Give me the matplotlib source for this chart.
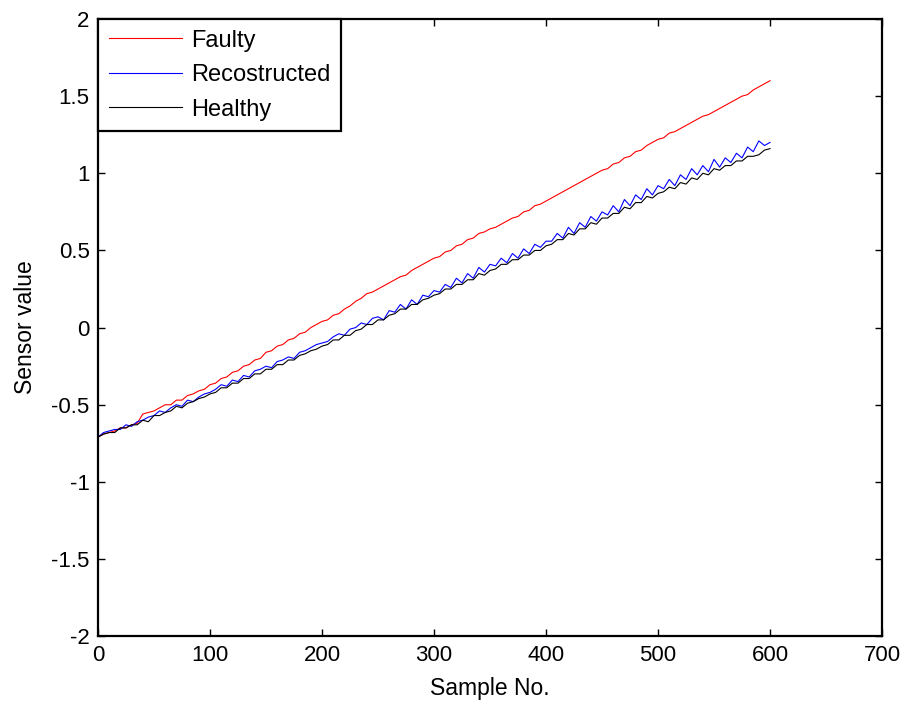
import matplotlib
matplotlib.use("Agg")
import matplotlib.pyplot as plt
from matplotlib.ticker import FormatStrFormatter

plt.rcParams['font.family'] = ['Liberation Sans', 'DejaVu Sans']
plt.rcParams['axes.unicode_minus'] = False

# sample numbers, every 5th sample
samples = list(range(0, 601, 5))

healthy = [
    -0.71, -0.69, -0.68, -0.68, -0.65, -0.65, -0.63, -0.63, -0.60, -0.61,
    -0.57, -0.57, -0.55, -0.54, -0.51, -0.52, -0.49, -0.48, -0.46, -0.45,
    -0.43, -0.42, -0.39, -0.39, -0.36, -0.36, -0.33, -0.33, -0.30, -0.30,
    -0.27, -0.27, -0.24, -0.24, -0.21, -0.21, -0.18, -0.17, -0.15, -0.14,
    -0.12, -0.11, -0.08, -0.08, -0.05, -0.05, -0.02, -0.01, 0.02, 0.02,
    0.05, 0.05, 0.08, 0.09, 0.12, 0.12, 0.15, 0.15, 0.18, 0.19,
    0.21, 0.22, 0.25, 0.25, 0.28, 0.28, 0.31, 0.31, 0.35, 0.34,
    0.37, 0.38, 0.41, 0.41, 0.44, 0.44, 0.47, 0.47, 0.50, 0.50,
    0.53, 0.54, 0.57, 0.57, 0.61, 0.60, 0.64, 0.64, 0.68, 0.67,
    0.71, 0.71, 0.74, 0.74, 0.78, 0.77, 0.81, 0.81, 0.85, 0.84,
    0.87, 0.88, 0.91, 0.90, 0.94, 0.93, 0.97, 0.96, 1.00, 0.99,
    1.03, 1.02, 1.05, 1.05, 1.08, 1.08, 1.11, 1.11, 1.12, 1.15,
    1.16,
]

faulty = [
    -0.71, -0.69, -0.68, -0.67, -0.65, -0.65, -0.63, -0.62, -0.56, -0.55,
    -0.54, -0.52, -0.50, -0.50, -0.47, -0.47, -0.44, -0.43, -0.41, -0.40,
    -0.37, -0.36, -0.33, -0.32, -0.29, -0.28, -0.25, -0.24, -0.21, -0.20,
    -0.16, -0.15, -0.12, -0.11, -0.08, -0.07, -0.04, -0.03, 0.00, 0.02,
    0.04, 0.05, 0.08, 0.09, 0.12, 0.14, 0.17, 0.19, 0.22, 0.23,
    0.25, 0.27, 0.29, 0.31, 0.33, 0.34, 0.37, 0.39, 0.41, 0.43,
    0.45, 0.46, 0.49, 0.50, 0.53, 0.54, 0.57, 0.58, 0.61, 0.62,
    0.64, 0.65, 0.67, 0.69, 0.71, 0.72, 0.75, 0.76, 0.79, 0.80,
    0.82, 0.84, 0.86, 0.88, 0.90, 0.92, 0.94, 0.96, 0.98, 1.00,
    1.02, 1.03, 1.06, 1.07, 1.10, 1.11, 1.14, 1.15, 1.18, 1.20,
    1.22, 1.23, 1.26, 1.27, 1.29, 1.31, 1.33, 1.35, 1.37, 1.38,
    1.40, 1.42, 1.44, 1.46, 1.48, 1.50, 1.51, 1.54, 1.56, 1.58,
    1.60,
]

reconstructed = [
    -0.71, -0.68, -0.67, -0.66, -0.66, -0.63, -0.64, -0.61, -0.60, -0.58,
    -0.57, -0.54, -0.55, -0.52, -0.50, -0.51, -0.47, -0.48, -0.45, -0.43,
    -0.42, -0.40, -0.37, -0.38, -0.34, -0.35, -0.31, -0.32, -0.28, -0.27,
    -0.25, -0.26, -0.22, -0.21, -0.19, -0.20, -0.16, -0.15, -0.13, -0.11,
    -0.10, -0.09, -0.06, -0.04, -0.05, -0.01, 0.00, 0.03, 0.02, 0.06,
    0.07, 0.05, 0.11, 0.10, 0.15, 0.12, 0.18, 0.15, 0.21, 0.20,
    0.24, 0.23, 0.28, 0.26, 0.32, 0.29, 0.35, 0.32, 0.39, 0.36,
    0.41, 0.40, 0.45, 0.42, 0.48, 0.45, 0.51, 0.48, 0.54, 0.52,
    0.56, 0.56, 0.61, 0.58, 0.65, 0.61, 0.68, 0.65, 0.72, 0.69,
    0.75, 0.73, 0.79, 0.75, 0.83, 0.79, 0.86, 0.83, 0.90, 0.86,
    0.92, 0.90, 0.96, 0.92, 0.99, 0.96, 1.03, 0.99, 1.05, 1.01,
    1.09, 1.04, 1.10, 1.07, 1.13, 1.10, 1.17, 1.14, 1.21, 1.18,
    1.20,
]

fig = plt.figure(figsize=(9.07, 7.03), dpi=100)
ax = fig.add_axes([0.108, 0.095, 0.8645, 0.878])

ax.plot(samples, faulty, color='red', lw=0.8, label='Faulty')
ax.plot(samples, reconstructed, color='blue', lw=0.8, label='Recostructed')
ax.plot(samples, healthy, color='black', lw=0.8, label='Healthy')

ax.set_xlim(0, 700)
ax.set_ylim(-2, 2)
ax.set_xticks(range(0, 701, 100))
ax.set_yticks([-2, -1.5, -1, -0.5, 0, 0.5, 1, 1.5, 2])
ax.yaxis.set_major_formatter(FormatStrFormatter('%g'))
ax.tick_params(direction='in', length=5, width=1, labelsize=16,
               top=True, right=True, pad=6)
for s in ax.spines.values():
    s.set_linewidth(1.6)

ax.set_xlabel('Sample No.', fontsize=16.5, labelpad=8)
ax.set_ylabel('Sensor value', fontsize=16.5, labelpad=10)

leg = ax.legend(loc='upper left', fontsize=17, fancybox=False, framealpha=1,
                borderaxespad=0, handlelength=3.1, handletextpad=0.4,
                labelspacing=0.53, borderpad=0.45)
leg.get_frame().set_edgecolor('black')
leg.get_frame().set_linewidth(1.6)

fig.savefig('out.png', dpi=100)
